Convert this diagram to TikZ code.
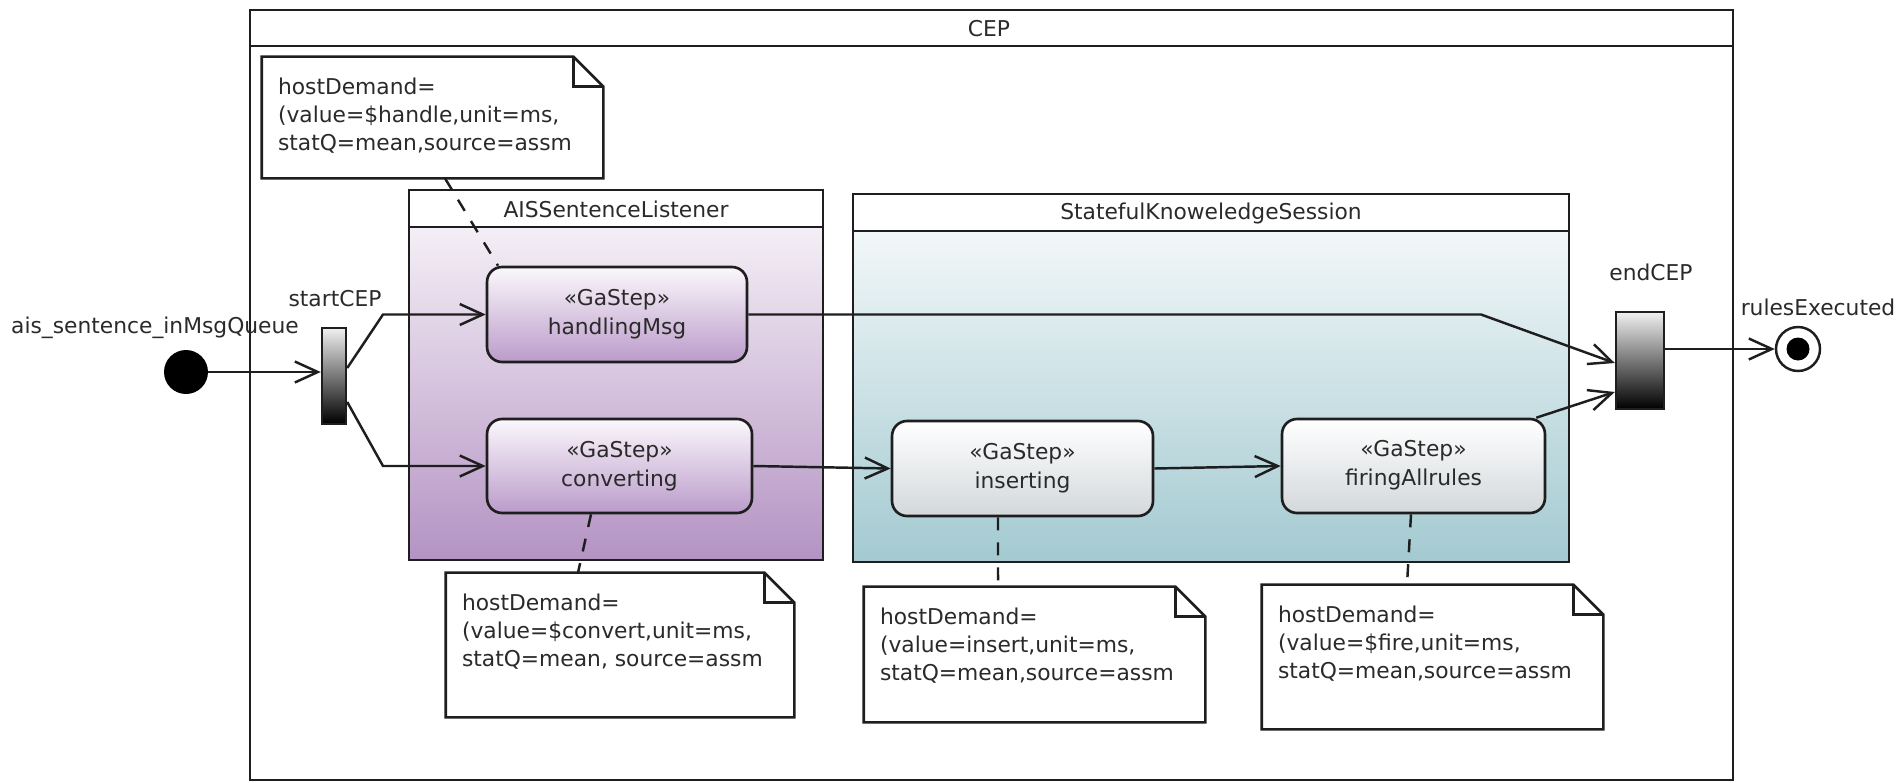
\documentclass[tikz,border=0pt]{standalone}
\usepackage{fontspec}
\setmainfont{DejaVu Sans}
\usetikzlibrary{arrows.meta}

\definecolor{inkgray}{HTML}{1E1E1E}
\definecolor{textgray}{HTML}{2A2A2A}
\definecolor{aisTop}{HTML}{F4EFF6}
\definecolor{aisBot}{HTML}{B493C3}
\definecolor{sksTop}{HTML}{F2F7F8}
\definecolor{sksBot}{HTML}{A3CAD1}
\definecolor{violetTop}{HTML}{FBF8FC}
\definecolor{violetBot}{HTML}{BB9BCA}
\definecolor{greyBot}{HTML}{D3D8DB}

\tikzset{
  umltext/.style={font=\fontsize{12.4}{16.5}\selectfont, text=textgray, inner sep=0pt},
  stepbox/.style={umltext, draw=inkgray, line width=1.5pt, rounded corners=0.3cm, align=center},
  violetstep/.style={stepbox, top color=violetTop, bottom color=violetBot},
  greystep/.style={stepbox, top color=white, bottom color=greyBot},
  forkbar/.style={draw=inkgray, line width=1.4pt, top color=gray!12, bottom color=black, inner sep=0pt},
  flow/.style={draw=inkgray, line width=1.4pt, -{Straight Barb[length=0.46cm,width=0.42cm,line width=1.4pt]}},
  notelink/.style={draw=inkgray, line width=1.4pt, dash pattern=on 0.26cm off 0.24cm},
  noteline/.style={draw=inkgray, line width=1.5pt, line join=miter},
  notearea/.style={inner sep=0pt, minimum width=6.82cm},
  notetext/.style={umltext, font=\fontsize{12.4}{15.9}\selectfont, align=left, anchor=north west},
  frameline/.style={draw=inkgray, line width=1.4pt}
}

\begin{document}
\begin{tikzpicture}[x=0.02cm, y=-0.02cm]
    \useasboundingbox (0,0) rectangle (1903,782);

    % CEP frame
    \draw[frameline] (250,10) rectangle (1733,780);
    \draw[frameline] (250,46) -- (1733,46);
    \node[umltext] (cepTitle) at (989,29) {CEP};

    % partitions
    \shade[top color=aisTop, bottom color=aisBot] (409,227) rectangle (823,560);
    \draw[frameline] (409,190) rectangle (823,560);
    \draw[frameline] (409,227) -- (823,227);
    \node[umltext] (aisTitle) at (616,209) {AISSentenceListener};

    \shade[top color=sksTop, bottom color=sksBot] (853,231) rectangle (1569,562);
    \draw[frameline] (853,194) rectangle (1569,562);
    \draw[frameline] (853,231) -- (1569,231);
    \node[umltext] (sksTitle) at (1211,213) {StatefulKnoweledgeSession};

    % initial / final nodes
    \node[circle, fill=black, minimum size=0.88cm, inner sep=0pt] (init) at (186,372) {};
    \node[umltext] (initLabel) at (155,328) {ais\_sentence\_inMsgQueue};
    \node[circle, draw=inkgray, line width=1.4pt, fill=white, minimum size=0.88cm, inner sep=0pt] (fin) at (1798,349) {};
    \node[circle, fill=black, minimum size=0.46cm, inner sep=0pt] (finDot) at (fin) {};
    \node[umltext] (finLabel) at (1818,307) {rulesExecuted};

    % fork / join bars
    \node[forkbar, minimum width=0.48cm, minimum height=1.92cm] (startBar) at (334,376) {};
    \node[umltext] (startLabel) at (335,299) {startCEP};
    \node[forkbar, minimum width=0.96cm, minimum height=1.94cm] (endBar) at (1640,360.5) {};
    \node[umltext] (endLabel) at (1651,272) {endCEP};

    % steps
    \node[violetstep, minimum width=5.2cm, minimum height=1.9cm] (handling) at (617,314.5) {«GaStep»\\handlingMsg};
    \node[violetstep, minimum width=5.3cm, minimum height=1.88cm] (converting) at (619.5,466) {«GaStep»\\converting};
    \node[greystep, minimum width=5.22cm, minimum height=1.9cm, text depth=0.12cm] (inserting) at (1022.5,468.5) {«GaStep»\\inserting};
    \node[greystep, minimum width=5.26cm, minimum height=1.88cm, text depth=0.12cm] (firing) at (1413.5,466) {«GaStep»\\firingAllrules};

    % control flows
    \coordinate (kHandling) at (383,314.5);
    \coordinate (kConverting) at (383,466);
    \coordinate (kJoin) at (1481,314.5);
    \draw[flow] (init) -- (init -| startBar.west);
    \draw[flow] ([yshift=0.16cm]startBar.east) -- (kHandling) -- (handling.west);
    \draw[flow] ([yshift=-0.52cm]startBar.east) -- (kConverting) -- (converting.west);
    \draw[flow] (handling.east) -- (kJoin) -- ([yshift=-0.05cm]endBar.west);
    \draw[flow] (converting.east) -- (inserting.west);
    \draw[flow] (inserting.east) -- (firing.west);
    \draw[flow] ([xshift=-0.2cm]firing.north east) -- ([yshift=-0.63cm]endBar.west);
    \draw[flow] (endBar.east |- fin) -- (fin);

    % notes
    \node[notearea, minimum height=2.42cm] (noteHandle) at (432.5,117.5) {};
    \node[notearea, minimum width=6.96cm, minimum height=2.88cm] (noteConvert) at (620,645) {};
    \node[notearea, minimum height=2.7cm] (noteInsert) at (1034.5,654.5) {};
    \node[notearea, minimum height=2.88cm] (noteFire) at (1432.5,657) {};

    \draw[notelink] ([xshift=0.25cm]noteHandle.south) -- ([xshift=-2.38cm]handling.north);
    \draw[notelink] ([xshift=-0.57cm]converting.south) -- ([xshift=-0.84cm]noteConvert.north);
    \draw[notelink] ([xshift=-0.49cm]inserting.south) -- ([xshift=-0.73cm]noteInsert.north);
    \draw[notelink] ([xshift=-0.05cm]firing.south) -- ([xshift=-0.51cm]noteFire.north);

    \foreach \n in {noteHandle,noteConvert,noteInsert,noteFire} {
        \draw[noteline, fill=white] (\n.south west) -- (\n.north west) -- ([xshift=-0.6cm]\n.north east)
            -- ([yshift=-0.6cm]\n.north east) -- (\n.south east) -- cycle;
        \draw[noteline] ([xshift=-0.6cm]\n.north east) |- ([yshift=-0.6cm]\n.north east);
    }

    \node[notetext] (textHandle) at ([xshift=0.32cm,yshift=-0.42cm]noteHandle.north west)
        {hostDemand=\\(value=\$handle,unit=ms,\\statQ=mean,source=assm};
    \node[notetext] (textConvert) at ([xshift=0.32cm,yshift=-0.42cm]noteConvert.north west)
        {hostDemand=\\(value=\$convert,unit=ms,\\statQ=mean, source=assm};
    \node[notetext] (textInsert) at ([xshift=0.32cm,yshift=-0.42cm]noteInsert.north west)
        {hostDemand=\\(value=insert,unit=ms,\\statQ=mean,source=assm};
    \node[notetext] (textFire) at ([xshift=0.32cm,yshift=-0.42cm]noteFire.north west)
        {hostDemand=\\(value=\$fire,unit=ms,\\statQ=mean,source=assm};
\end{tikzpicture}
\end{document}
